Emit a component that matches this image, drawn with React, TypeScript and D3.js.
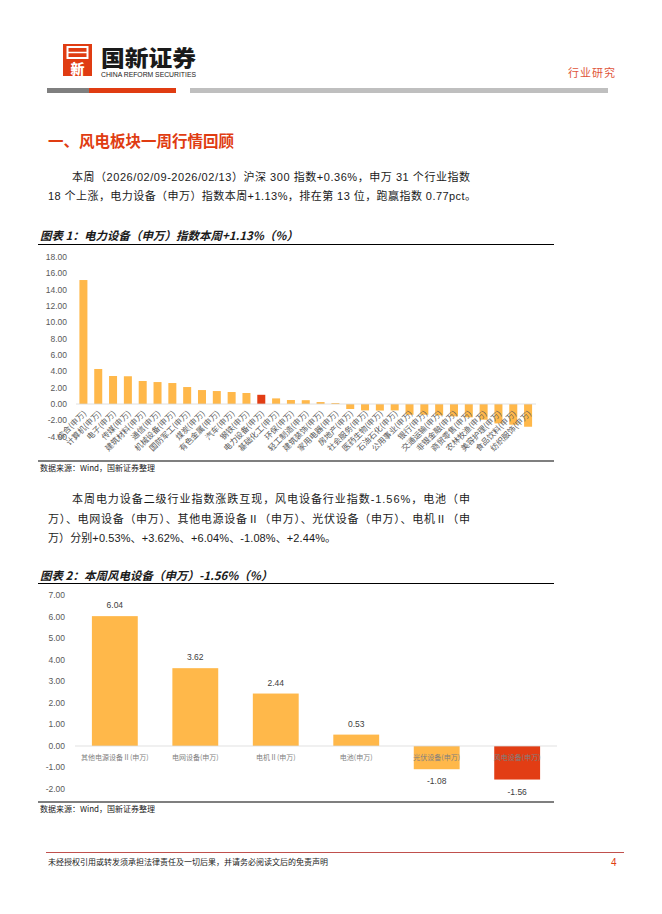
import React from 'react';
import * as d3 from 'd3';

// 图表1：申万一级行业本周涨跌幅（%）
const industries = [
  '综合(申万)', '计算机(申万)', '电子(申万)', '传媒(申万)', '建筑材料(申万)', '通信(申万)',
  '机械设备(申万)', '国防军工(申万)', '煤炭(申万)', '有色金属(申万)', '汽车(申万)', '钢铁(申万)',
  '电力设备(申万)', '基础化工(申万)', '环保(申万)', '轻工制造(申万)', '建筑装饰(申万)', '家用电器(申万)',
  '房地产(申万)', '社会服务(申万)', '医药生物(申万)', '石油石化(申万)', '公用事业(申万)', '银行(申万)',
  '交通运输(申万)', '非银金融(申万)', '商贸零售(申万)', '农林牧渔(申万)', '美容护理(申万)', '食品饮料(申万)',
  '纺织服饰(申万)',
];
const industryChange = [
  15.18, 4.29, 3.43, 3.40, 2.82, 2.69,
  2.57, 2.08, 1.71, 1.59, 1.47, 1.35,
  1.13, 0.69, 0.49, 0.47, 0.24, 0.12,
  -0.61, -0.78, -0.80, -0.78, -1.31, -1.31,
  -1.39, -1.51, -1.63, -1.92, -2.37, -2.53,
  -2.78,
];
const highlight1 = '电力设备(申万)';
const yTicks1 = [-4, -2, 0, 2, 4, 6, 8, 10, 12, 14, 16, 18];

// 图表2：电力设备二级行业本周涨跌幅（%）
const subIndustries = ['其他电源设备Ⅱ(申万)', '电网设备(申万)', '电机Ⅱ(申万)', '电池(申万)', '光伏设备(申万)', '风电设备(申万)'];
const subChange = [6.04, 3.62, 2.44, 0.53, -1.08, -1.56];
const highlight2 = '风电设备(申万)';
const yTicks2 = [-2, -1, 0, 1, 2, 3, 4, 5, 6, 7];

const ORANGE = '#FFB84A';
const RED = '#E23D14';
const AXIS = '#595959';
const CJK = '"Noto Sans CJK SC", "Liberation Sans", sans-serif';
const NUM = '"Liberation Sans", Arial, "Noto Sans CJK SC", sans-serif';

const Chart1: React.FC = () => {
  const x = d3.scaleBand<string>().domain(industries).range([76, 535.5]).paddingInner(0.46).paddingOuter(0.23);
  const y = d3.scaleLinear().domain([-4, 18]).range([436.7, 257]);
  return (
    <g>
      {yTicks1.map(t => (
        <text key={t} x={67} y={y(t)} dy="0.35em" textAnchor="end" fontSize={8.5} fill={AXIS} fontFamily={NUM}>
          {t.toFixed(2)}
        </text>
      ))}
      {industries.map((c, i) => {
        const v = industryChange[i];
        return (
          <rect key={c} x={x(c)} width={x.bandwidth()} y={Math.min(y(v), y(0))}
                height={Math.abs(y(v) - y(0))} fill={c === highlight1 ? RED : ORANGE} />
        );
      })}
      <line x1={76} x2={536} y1={y(0)} y2={y(0)} stroke="#d9d9d9" strokeWidth={0.8} />
      {industries.map(c => {
        const cx = (x(c) as number) + x.bandwidth() / 2;
        return (
          <text key={c} transform={`translate(${cx + 1},${411.5}) rotate(-45)`} textAnchor="end"
                dominantBaseline="central" fontSize={8} fill={AXIS} fontFamily={CJK}>
            {c}
          </text>
        );
      })}
    </g>
  );
};

const Chart2: React.FC = () => {
  const x = d3.scaleBand<string>().domain(subIndustries).range([75, 557]).paddingInner(0.43).paddingOuter(0.21);
  const y = d3.scaleLinear().domain([-2, 7]).range([789, 595.5]);
  return (
    <g>
      {yTicks2.map(t => (
        <text key={t} x={65} y={y(t)} dy="0.35em" textAnchor="end" fontSize={8.5} fill={AXIS} fontFamily={NUM}>
          {t.toFixed(2)}
        </text>
      ))}
      {subIndustries.map((c, i) => {
        const v = subChange[i];
        return (
          <rect key={c} x={x(c)} width={x.bandwidth()} y={Math.min(y(v), y(0))}
                height={Math.abs(y(v) - y(0))} fill={c === highlight2 ? RED : ORANGE} />
        );
      })}
      <line x1={75} x2={557} y1={y(0)} y2={y(0)} stroke="#d9d9d9" strokeWidth={0.8} />
      {subIndustries.map((c, i) => {
        const cx = (x(c) as number) + x.bandwidth() / 2;
        const v = subChange[i];
        return (
          <g key={c}>
            <text x={cx} y={758} dy="0.35em" textAnchor="middle" fontSize={7} fill="#7f7f7f" fontFamily={CJK}>{c}</text>
            <text x={cx} y={v >= 0 ? y(v) - 8 : y(v) + 15} textAnchor="middle" fontSize={8.5}
                  fill="#404040" fontFamily={NUM}>{v.toFixed(2)}</text>
          </g>
        );
      })}
    </g>
  );
};

export default function App() {
  return (
    <div style={{ position: 'absolute', left: 0, top: 0 }}>
      <svg width={662} height={914} style={{ display: 'block', background: '#fff' }}>
        {/* header */}
        <rect x={63} y={44} width={29} height={32} fill="#E03C12" />
        <rect x={67.5} y={47} width={20} height={11} fill="none" stroke="#fff" strokeWidth={2} />
        <line x1={67.5} x2={87.5} y1={52.5} y2={52.5} stroke="#fff" strokeWidth={1.5} />
        <text x={77.5} y={74} textAnchor="middle" fontSize={14} fontWeight={900} fill="#fff" fontFamily={CJK}>新</text>
        <text x={101} y={66} fontSize={22} fontWeight={900} fill="#1a1a1a" fontFamily={CJK} textLength={95} lengthAdjust="spacingAndGlyphs">国新证券</text>
        <text x={101} y={76.5} fontSize={6.5} fill="#1a1a1a" fontFamily={NUM} textLength={95} lengthAdjust="spacingAndGlyphs">CHINA REFORM SECURITIES</text>
        <text x={568} y={77} fontSize={11} fill="#E0553A" fontFamily={CJK} letterSpacing={1}>行业研究</text>
        <rect x={47} y={88} width={42} height={5} fill="#7f7f7f" />
        <rect x={89} y={88} width={87} height={5} fill="#E03C12" />
        <rect x={190} y={88} width={418} height={5} fill="#bfbfbf" />

        {/* section heading */}
        <text x={48} y={146.5} fontSize={15.5} fontWeight={700} fill="#E03C12" fontFamily={CJK}>一、风电板块一周行情回顾</text>

        <g fontSize={11} fill="#1a1a1a" fontFamily={NUM}>
          <text x={72} y={181} textLength={398} lengthAdjust="spacing">本周（2026/02/09-2026/02/13）沪深 300 指数+0.36%，申万 31 个行业指数</text>
          <text x={48} y={200} textLength={428} lengthAdjust="spacing">18 个上涨，电力设备（申万）指数本周+1.13%，排在第 13 位，跑赢指数 0.77pct。</text>
        </g>

        {/* chart 1 */}
        <text x={40} y={240} fontSize={11.5} fontWeight={700} fontStyle="italic" fill="#1a1a1a" fontFamily={CJK}>图表 1：电力设备（申万）指数本周+1.13%（%）</text>
        <line x1={38} x2={554} y1={244.5} y2={244.5} stroke="#000" strokeWidth={1.2} />
        <Chart1 />
        <line x1={38} x2={554} y1={461} y2={461} stroke="#000" strokeWidth={1.2} />
        <text x={40} y={471} fontSize={8} fill="#1a1a1a" fontFamily={CJK}>数据来源：Wind，国新证券整理</text>

        <g fontSize={11} fill="#1a1a1a" fontFamily={NUM}>
          <text x={72} y={503} textLength={398} lengthAdjust="spacing">本周电力设备二级行业指数涨跌互现，风电设备行业指数-1.56%，电池（申</text>
          <text x={48} y={522.5} textLength={422} lengthAdjust="spacing">万）、电网设备（申万）、其他电源设备Ⅱ（申万）、光伏设备（申万）、电机Ⅱ（申</text>
          <text x={48} y={542} textLength={288} lengthAdjust="spacing">万）分别+0.53%、+3.62%、+6.04%、-1.08%、+2.44%。</text>
        </g>

        {/* chart 2 */}
        <text x={40} y={579.5} fontSize={11.5} fontWeight={700} fontStyle="italic" fill="#1a1a1a" fontFamily={CJK}>图表 2：本周风电设备（申万）-1.56%（%）</text>
        <line x1={38} x2={554} y1={583.5} y2={583.5} stroke="#000" strokeWidth={1.2} />
        <Chart2 />
        <line x1={38} x2={554} y1={802} y2={802} stroke="#000" strokeWidth={1.2} />
        <text x={40} y={812} fontSize={8} fill="#1a1a1a" fontFamily={CJK}>数据来源：Wind，国新证券整理</text>

        {/* footer */}
        <line x1={46} x2={624} y1={852.5} y2={852.5} stroke="#C0504D" strokeWidth={1} />
        <text x={48} y={865} fontSize={8} fill="#1a1a1a" fontFamily={CJK}>未经授权引用或转发须承担法律责任及一切后果，并请务必阅读文后的免责声明</text>
        <text x={611} y={866} fontSize={10} fill="#E03C12" fontFamily={NUM}>4</text>
      </svg>
    </div>
  );
}
